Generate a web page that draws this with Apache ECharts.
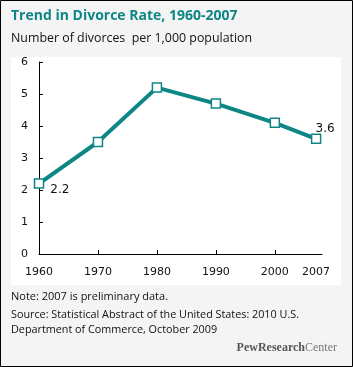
<!DOCTYPE html>
<html><head><meta charset="utf-8">
<script src="https://cdn.jsdelivr.net/npm/echarts@6/dist/echarts.min.js"></script>
<style>html,body{margin:0;padding:0;background:#f4f4f4}#c{width:353px;height:367px}</style>
</head><body><div id="c"></div>
<script>
const years = [1960, 1970, 1980, 1990, 2000, 2007];
const divorceRate = [2.2, 3.5, 5.2, 4.7, 4.1, 3.6];
const xTickValues = [1960, 1970, 1980, 1990, 2000];
const xLabelValues = [1960, 1970, 1980, 1990, 2000, 2007];
const yTicks = [0, 1, 2, 3, 4, 5, 6];

const teal = '#0e8686';
const chart = echarts.init(document.getElementById('c'), null, {renderer: 'canvas'});
const seriesData = years.map((y, i) => {
  const d = {value: [y, divorceRate[i]]};
  if (i === 0) d.label = {show: true, position: 'right', offset: [1, 6], formatter: String(divorceRate[i])};
  if (i === years.length - 1) d.label = {show: true, position: 'top', offset: [9, 6], formatter: String(divorceRate[i])};
  return d;
});
chart.setOption({
  backgroundColor: '#f4f4f4',
  animation: false,
  graphic: [
    {type: 'rect', left: 0, top: 0, z: -10, shape: {x: 0, y: 0, width: 352, height: 366}, style: {fill: '#f4f4f4', stroke: '#000', lineWidth: 1}, silent: true},
    {type: 'rect', z: -9, shape: {x: 11, y: 57, width: 330, height: 228}, style: {fill: '#fff'}, silent: true},
    {type: 'text', x: 11, y: 9, style: {text: 'Trend in Divorce Rate, 1960-2007', fill: teal, font: 'bold 14px "Open Sans", sans-serif'}},
    {type: 'text', x: 11, y: 32, style: {text: 'Number of divorces  per 1,000 population', fill: '#111', font: '12.4px "Open Sans", sans-serif'}},
    {type: 'text', x: 11, y: 291, style: {text: 'Note: 2007 is preliminary data.', fill: '#111', font: '11px "Open Sans", sans-serif'}},
    {type: 'text', x: 11, y: 307, style: {text: 'Source: Statistical Abstract of the United States: 2010 U.S.\nDepartment of Commerce, October 2009', fill: '#111', font: '10.8px "Open Sans", sans-serif', lineHeight: 15}},
    {type: 'text', right: 16, top: 342, style: {
      text: '{b|PewResearch}{l|Center}',
      rich: {
        b: {fill: '#555', font: 'bold 12px "Liberation Serif", serif'},
        l: {fill: '#777', font: '12px "Liberation Serif", serif'}
      }
    }}
  ],
  grid: {left: 39, right: 31, top: 62, bottom: 113, containLabel: false},
  xAxis: {
    type: 'value', min: 1960, max: 2008,
    axisLine: {lineStyle: {color: '#000', width: 1}},
    axisTick: {show: true, inside: true, length: 4, lineStyle: {color: '#000'}, customValues: xTickValues},
    axisLabel: {color: '#111', fontSize: 11, fontFamily: 'DejaVu Sans', margin: 13, customValues: xLabelValues, formatter: v => String(v)},
    splitLine: {show: false}
  },
  yAxis: {
    type: 'value', min: 0, max: 6, interval: 1,
    axisLine: {show: true, lineStyle: {color: '#000', width: 1}},
    axisTick: {show: true, inside: true, length: 4, lineStyle: {color: '#000'}},
    axisLabel: {color: '#111', fontSize: 11, fontFamily: 'DejaVu Sans', margin: 11},
    splitLine: {show: false}
  },
  series: [{
    type: 'line', data: seriesData,
    lineStyle: {color: teal, width: 4},
    symbol: 'rect', symbolSize: 9,
    itemStyle: {color: '#fff', borderColor: teal, borderWidth: 1.5},
    label: {color: '#111', fontSize: 12, fontFamily: 'DejaVu Sans'},
    z: 3
  }]
});
</script></body></html>
